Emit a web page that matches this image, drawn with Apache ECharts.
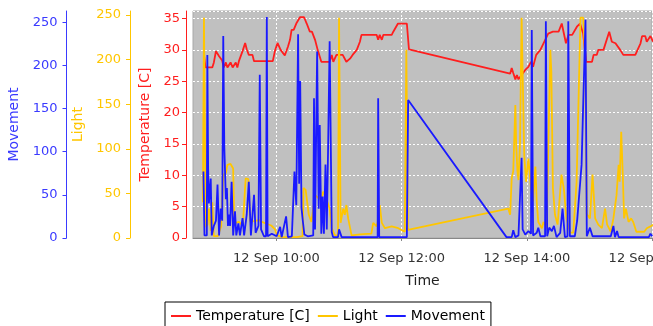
<!DOCTYPE html>
<html>
<head>
<meta charset="utf-8">
<title>Sensor log 12 Sep</title>
<script src="https://cdn.jsdelivr.net/npm/echarts@6/dist/echarts.min.js"></script>
<style>
  html, body { margin: 0; padding: 0; background: #ffffff; }
  #chart { width: 653px; height: 326px; }
</style>
</head>
<body>
<div id="chart"></div>
<script>
// readings of 12 Sep
const tempTimes = [
  '08:50:30', '08:52', '08:58:30', '09:00', '09:02', '09:03:30', '09:05', '09:06:30', '09:08', '09:09:30',
  '09:11:30', '09:13', '09:16', '09:18', '09:21', '09:22:30', '09:24', '09:27:30', '09:30', '09:31:30',
  '09:33:30', '09:37', '09:38:30', '09:56:30', '09:58:30', '10:01', '10:04', '10:08', '10:11', '10:13',
  '10:14:30', '10:16:30', '10:19', '10:22:30', '10:26:30', '10:29', '10:32', '10:34', '10:37', '10:39:30',
  '10:43', '10:51', '10:53', '10:54:30', '10:57:30', '11:03:30', '11:07', '11:10:30', '11:13', '11:17',
  '11:20', '11:21:30', '11:36', '11:37:30', '11:39', '11:41', '11:42:30', '11:50:30', '11:52', '11:56:30',
  '12:05', '12:07', '13:44', '13:45:30', '13:47', '13:49', '13:50:30', '13:52', '13:55', '13:58:30',
  '14:01:30', '14:04', '14:06', '14:09', '14:13', '14:16', '14:20:30', '14:25', '14:30:30', '14:33:30',
  '14:37:30', '14:40', '14:43:30', '14:48', '14:51', '14:54', '14:57', '15:02:30', '15:04', '15:07',
  '15:08:30', '15:13:30', '15:19', '15:21:30', '15:25', '15:29:30', '15:32:30', '15:44', '15:49', '15:50:30',
  '15:53:30', '15:55', '15:58:30', '16:01'
];
const tempValues = [
  29.2, 27.2, 27.2, 28.0, 29.8, 30.0, 29.0, 29.2, 28.3, 27.2,
  28.0, 27.2, 28.0, 27.2, 28.0, 27.2, 28.2, 29.8, 31.1, 30.1,
  29.2, 29.2, 28.2, 28.2, 29.8, 31.1, 30.0, 29.1, 30.5, 31.6,
  33.2, 33.2, 34.2, 35.2, 35.2, 34.2, 32.9, 32.9, 31.6, 30.0,
  28.1, 28.1, 29.2, 28.1, 29.2, 29.2, 28.1, 28.6, 29.2, 30.0,
  31.3, 32.4, 32.4, 31.6, 32.4, 31.6, 32.4, 32.4, 32.9, 34.2,
  34.2, 30.1, 26.2, 27.1, 26.3, 25.3, 26.0, 25.3, 26.0, 26.8,
  27.3, 28.1, 27.3, 29.2, 30.0, 31.05, 32.6, 32.9, 32.9, 34.2,
  31.05, 32.4, 32.4, 33.7, 34.2, 32.6, 28.1, 28.1, 29.2, 29.2,
  30.0, 30.0, 32.9, 31.3, 31.05, 30.0, 29.2, 29.2, 31.05, 32.2,
  32.2, 31.3, 32.2, 31.3
];

const lightTimes = [
  '08:49:30', '08:50:30', '08:51:45', '08:52:30', '08:54', '08:55:15', '08:57', '08:58:30', '09:00', '09:03:45',
  '09:07', '09:09', '09:11:30', '09:13', '09:16', '09:18:30', '09:19:30', '09:21', '09:24', '09:27:45',
  '09:29', '09:30:30', '09:33', '09:34:45', '09:38:30', '09:43:30', '09:46', '09:50:30', '09:55', '09:58:30',
  '10:00:30', '10:06', '10:19:30', '10:25', '10:26', '10:28', '10:31', '10:33:30', '10:37', '10:40',
  '10:43', '10:44:45', '10:46:30', '10:48', '10:51', '10:53', '10:56', '10:59', '11:00', '11:01:30',
  '11:04', '11:05:30', '11:07', '11:08:45', '11:12', '11:20', '11:31', '11:32:45', '11:36', '11:37:30',
  '11:39', '11:41', '11:44', '11:50:30', '11:56:45', '12:03', '12:04:30', '12:06', '13:42:15', '13:44',
  '13:45:30', '13:47', '13:49', '13:49:45', '13:51', '13:52', '13:53:30', '13:55', '13:56', '13:57:30',
  '13:59:15', '14:01:30', '14:04', '14:06', '14:08:15', '14:09:30', '14:11', '14:14:30', '14:16', '14:19',
  '14:22:30', '14:23:30', '14:25', '14:27', '14:29:30', '14:33:15', '14:35:30', '14:38', '14:41:30', '14:44:30',
  '14:47:45', '14:50', '14:51:30', '14:54', '14:56', '14:57:30', '15:00:30', '15:03', '15:05:30', '15:08:30',
  '15:12', '15:15', '15:17', '15:20:30', '15:23', '15:26', '15:28', '15:29', '15:30:30', '15:32',
  '15:33:15', '15:35', '15:37:30', '15:40', '15:42', '15:45', '15:49', '15:52:30', '15:55', '15:58:30',
  '16:01'
];
const lightValues = [
  40, 247, 70, 12, 15, 33, 8, 40, 2, 2,
  13, 71, 73, 82, 83, 78, 20, 17, 18, 14,
  12, 67, 66, 19, 19, 20, 18, 16, 14, 10,
  3, 1, 1, 2, 56, 54, 26, 18, 48, 45,
  43, 52, 48, 50, 33, 11, 3, 3, 247, 17,
  33, 26, 37, 22, 3, 4, 5, 17, 13, 20,
  37, 17, 11, 13, 11, 7, 211, 9, 33, 26,
  67, 75, 149, 106, 75, 65, 108, 247, 247, 93,
  63, 89, 56, 41, 80, 40, 18, 11, 18, 11,
  211, 187, 56, 26, 15, 71, 55, 22, 6, 6,
  63, 176, 247, 247, 202, 27, 22, 71, 22, 15,
  11, 33, 15, 7, 22, 48, 82, 63, 119, 71,
  22, 33, 18, 22, 18, 7, 7, 7, 11, 13,
  15
];

const moveTimes = [
  '08:50', '08:51', '08:53:15', '08:53:45', '08:54:30', '08:55:15', '08:57', '08:58', '09:00', '09:02',
  '09:03:30', '09:05', '09:06:30', '09:08', '09:09', '09:10', '09:11:30', '09:12:30', '09:13:30', '09:14:30',
  '09:15:30', '09:17', '09:18:30', '09:20:15', '09:21:30', '09:23:30', '09:25', '09:27:30', '09:29', '09:31:30',
  '09:33:30', '09:35:30', '09:38:30', '09:40', '09:42:45', '09:44', '09:45:15', '09:48', '09:50', '09:50:45',
  '09:51:30', '09:55:30', '10:00:15', '10:03:30', '10:05', '10:09:15', '10:11', '10:14:45', '10:17:15', '10:19',
  '10:20:45', '10:21:45', '10:22:45', '10:24', '10:25:15', '10:26:45', '10:30', '10:35:15', '10:36', '10:37',
  '10:39', '10:40:30', '10:41:30', '10:43', '10:44:15', '10:45:30', '10:47', '10:48:15', '10:49:30', '10:51',
  '10:53', '10:54:15', '10:59', '11:00', '11:02:30', '11:37', '11:37:30', '11:38:30', '12:05', '12:06:15',
  '13:40:30', '13:45:30', '13:47', '13:49', '13:52', '13:55', '13:56', '13:58:30', '14:01:30', '14:04',
  '14:04:45', '14:06', '14:09:30', '14:11', '14:13', '14:17:30', '14:18:15', '14:19:30', '14:21:30', '14:24',
  '14:26', '14:28:30', '14:32', '14:34:15', '14:36:30', '14:39', '14:39:45', '14:41:15', '14:46', '14:48:15',
  '14:52:30', '14:56:15', '14:57:30', '15:00:30', '15:03', '15:20:30', '15:23', '15:24:30', '15:26:30', '15:28',
  '15:57', '15:58:30', '16:00:15'
];
const moveValues = [
  77, 3, 3, 212, 81, 40, 69, 3, 14, 20,
  62, 3, 34, 20, 234, 106, 45, 58, 14, 27,
  14, 65, 3, 31, 3, 17, 3, 23, 3, 27,
  65, 3, 50, 6, 14, 189, 10, 2, 2, 256,
  2, 5, 2, 13, 1, 25, 1, 2, 77, 38,
  236, 63, 182, 35, 20, 4, 2, 3, 162, 10,
  216, 34, 131, 5, 48, 5, 85, 10, 104, 228,
  7, 1, 1, 10, 1, 1, 162, 1, 1, 160,
  1, 1, 9, 1, 3, 93, 10, 4, 8, 5,
  241, 3, 6, 12, 2, 2, 251, 2, 12, 8,
  14, 1, 6, 34, 1, 2, 251, 2, 2, 20,
  85, 253, 2, 12, 2, 2, 14, 1, 8, 1,
  1, 5, 2
];

// axis range and labelled ticks of the time axis
const timeRange = ['08:40', '16:00'];
const timeTicks = ['10:00', '12:00', '14:00', '16:00'];

const DAY = [2008, 8, 12];
const FONT = 'DejaVu Sans';
const MONTHS = ['Jan', 'Feb', 'Mar', 'Apr', 'May', 'Jun', 'Jul', 'Aug', 'Sep', 'Oct', 'Nov', 'Dec'];

const RED = '#ff1e1e';
const YELLOW = '#ffc600';
const BLUE = '#1a1aff';

function toTime(s) {
  const p = s.split(':').map(Number);
  return new Date(DAY[0], DAY[1], DAY[2], p[0], p[1], p[2] || 0).getTime();
}
function pairs(times, values) {
  return times.map((t, i) => [toTime(t), values[i]]);
}
function pad(n) { return (n < 10 ? '0' : '') + n; }

function yAxisFor(name, color, offset, max, nameGap, margin, grid) {
  return {
    type: 'value',
    name: name,
    position: 'left',
    offset: offset,
    min: 0,
    max: max,
    interval: name.indexOf('Temp') === 0 ? 5 : 50,
    nameLocation: 'middle',
    nameRotate: 90,
    nameGap: nameGap,
    nameTextStyle: { color: color, fontSize: 14, fontFamily: FONT },
    axisLine: { show: true, lineStyle: { color: color, width: 1 } },
    axisTick: { show: true, length: 4, lineStyle: { color: color } },
    axisLabel: { color: color, fontSize: 13, fontFamily: FONT, margin: margin, showMaxLabel: false },
    splitLine: grid
      ? { show: true, lineStyle: { color: '#ffffff', type: [2, 2], width: 1 } }
      : { show: false }
  };
}

const chart = echarts.init(document.getElementById('chart'), null, { renderer: 'canvas' });
const tickValues = timeTicks.map(toTime);

const option = {
  backgroundColor: '#ffffff',
  animation: false,
  grid: {
    left: 193,
    right: 1,
    top: 11,
    bottom: 88,
    show: true,
    backgroundColor: '#c0c0c0',
    borderColor: '#a8a8a8',
    borderWidth: 1,
    outerBoundsMode: 'none'
  },
  legend: {
    data: ['Temperature [C]', 'Light', 'Movement'],
    left: 165,
    top: 302,
    padding: [7, 6, 7, 6],
    itemGap: 8,
    itemWidth: 20,
    itemHeight: 2,
    icon: 'rect',
    borderColor: '#000000',
    borderWidth: 1,
    textStyle: { color: '#000000', fontSize: 14, fontFamily: FONT }
  },
  xAxis: {
    type: 'value',
    min: toTime(timeRange[0]),
    max: toTime(timeRange[1]),
    offset: 6,
    name: 'Time',
    nameLocation: 'middle',
    nameGap: 30,
    nameTextStyle: { color: '#222222', fontSize: 14, fontFamily: FONT },
    axisLine: { show: true, lineStyle: { color: '#888888' } },
    axisTick: { show: true, length: 3, lineStyle: { color: '#888888' }, customValues: tickValues },
    axisLabel: {
      color: '#333333',
      fontSize: 13,
      fontFamily: FONT,
      margin: 8,
      hideOverlap: false,
      customValues: tickValues,
      formatter: function (v) {
        const d = new Date(v);
        return d.getDate() + ' ' + MONTHS[d.getMonth()] + ' ' + pad(d.getHours()) + ':' + pad(d.getMinutes());
      }
    },
    splitLine: { show: true, lineStyle: { color: '#ffffff', type: [2, 2], width: 1 } }
  },
  yAxis: [
    yAxisFor('Temperature [C]', RED, 7, 36.2, 32, 6, true),
    yAxisFor('Light', YELLOW, 63, 254.5, 41, 9, false),
    yAxisFor('Movement', '#3a3aff', 126.5, 263, 41, 9, false)
  ],
  series: [
    {
      name: 'Temperature [C]',
      type: 'line',
      yAxisIndex: 0,
      data: pairs(tempTimes, tempValues),
      symbol: 'none',
      showSymbol: false,
      lineStyle: { color: RED, width: 1.8 },
      itemStyle: { color: RED }
    },
    {
      name: 'Light',
      type: 'line',
      yAxisIndex: 1,
      data: pairs(lightTimes, lightValues),
      symbol: 'none',
      showSymbol: false,
      lineStyle: { color: YELLOW, width: 1.8 },
      itemStyle: { color: YELLOW }
    },
    {
      name: 'Movement',
      type: 'line',
      yAxisIndex: 2,
      data: pairs(moveTimes, moveValues),
      symbol: 'none',
      showSymbol: false,
      lineStyle: { color: BLUE, width: 1.8 },
      itemStyle: { color: BLUE }
    }
  ]
};

chart.setOption(option);
</script>
</body>
</html>
